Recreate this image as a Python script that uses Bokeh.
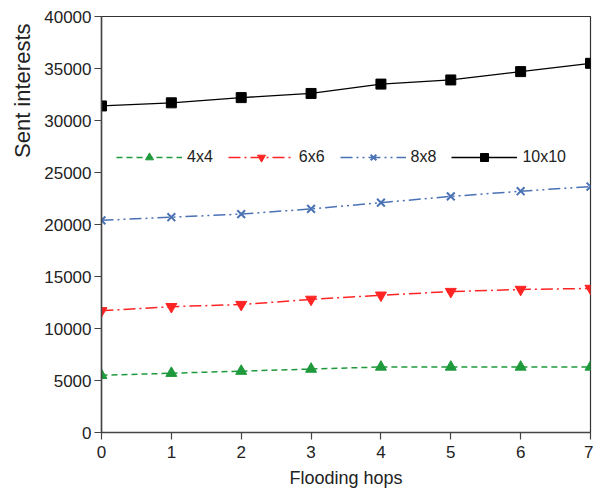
from bokeh.plotting import figure
from bokeh.models import Range1d, FixedTicker, Legend, LegendItem, Title
from bokeh.embed import file_html
from bokeh.resources import INLINE

hops = [0, 1, 2, 3, 4, 5, 6, 7]
s4x4 = [5500, 5700, 5900, 6100, 6300, 6300, 6300, 6300]
s6x6 = [11700, 12100, 12300, 12800, 13200, 13550, 13750, 13850]
s8x8 = [20400, 20700, 21000, 21500, 22100, 22700, 23200, 23650]
s10x10 = [31400, 31700, 32200, 32600, 33500, 33900, 34700, 35500]
series_names = ["4x4", "6x6", "8x8", "10x10"]
y_ticks = [0, 5000, 10000, 15000, 20000, 25000, 30000, 35000, 40000]

FONT = "Liberation Sans"

p = figure(width=593, height=502, output_backend="svg", toolbar_location=None,
           x_range=Range1d(0, 7), y_range=Range1d(0, 40000),
           min_border_left=101, min_border_top=16, min_border_right=3, min_border_bottom=70)
p.grid.visible = False
p.outline_line_color = "#333333"
p.outline_line_width = 1.2

for ax in (p.xaxis[0], p.yaxis[0]):
    ax.axis_line_color = "#444444"
    ax.axis_line_width = 1.5
    ax.major_tick_line_color = "#444444"
    ax.major_tick_line_width = 1.2
    ax.major_tick_out = 7
    ax.major_tick_in = 0
    ax.minor_tick_line_color = None
    ax.major_label_text_font = FONT
    ax.major_label_text_font_size = "17px"
    ax.major_label_text_color = "#222222"

p.xaxis.ticker = FixedTicker(ticks=hops)
p.yaxis.ticker = FixedTicker(ticks=y_ticks)
p.xaxis.axis_label = "Flooding hops"
p.xaxis.axis_label_text_font = FONT
p.xaxis.axis_label_text_font_style = "normal"
p.xaxis.axis_label_text_font_size = "18px"
p.xaxis.axis_label_text_color = "#222222"
p.xaxis.axis_label_standoff = 7
p.xaxis.major_label_standoff = 6
p.yaxis.major_label_standoff = 3

ytitle = Title(text="Sent interests", align="right", offset=7,
               text_font=FONT, text_font_size="22px", text_font_style="normal",
               text_color="#222222", standoff=14)
p.add_layout(ytitle, "left")

green = "#1e9a3c"
red = "#ff2424"
blue = "#4a72b4"
black = "#000000"

l1 = p.line(hops, s4x4, line_color=green, line_width=1.5, line_dash="6 4")
m1 = p.scatter(hops, s4x4, marker="triangle", size=11, fill_color=green, line_color=green)
l2 = p.line(hops, s6x6, line_color=red, line_width=1.5, line_dash="12 4 2 4")
m2 = p.scatter(hops, s6x6, marker="inverted_triangle", size=11, fill_color=red, line_color=red)
l3 = p.line(hops, s8x8, line_color=blue, line_width=1.5, line_dash="12 4 2 4 2 4")
m3 = p.scatter(hops, s8x8, marker="x", size=11, line_color=blue, line_width=2)
l4 = p.line(hops, s10x10, line_color=black, line_width=1.3)
m4 = p.scatter(hops, s10x10, marker="square", size=10, fill_color=black, line_color=black)

legend = Legend(items=[
    LegendItem(label=series_names[0], renderers=[l1, m1]),
    LegendItem(label=series_names[1], renderers=[l2, m2]),
    LegendItem(label=series_names[2], renderers=[l3, m3]),
    LegendItem(label=series_names[3], renderers=[l4, m4]),
], orientation="horizontal", location=(15, 265))
legend.glyph_width = 66
legend.glyph_height = 20
legend.label_text_font = FONT
legend.label_text_font_size = "16px"
legend.label_text_color = "#222222"
legend.label_standoff = 5
legend.spacing = 15
legend.border_line_color = None
legend.background_fill_alpha = 0
legend.padding = 0
legend.margin = 0
p.add_layout(legend)

open("out.html", "w").write(file_html(p, INLINE))
